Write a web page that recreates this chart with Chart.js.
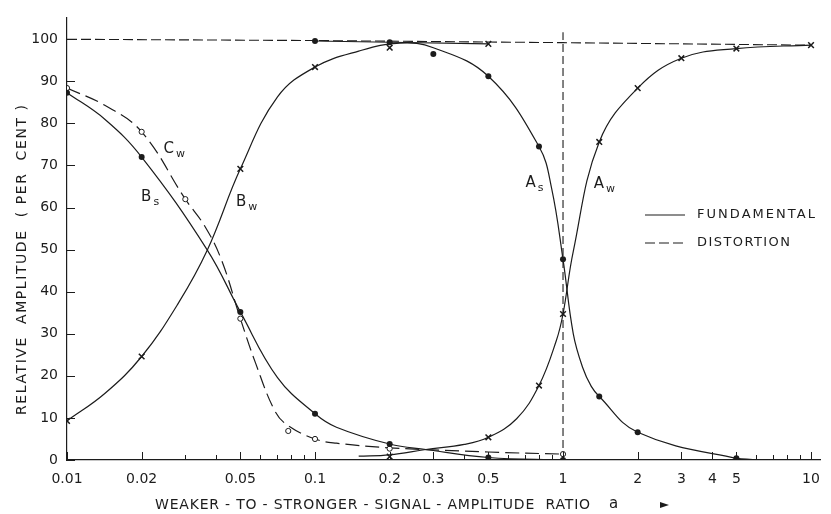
<!DOCTYPE html>
<html lang="en">
<head>
  <meta charset="UTF-8" />
  <title>Relative amplitude vs signal ratio</title>
  <script src="https://cdn.jsdelivr.net/npm/chart.js"></script>
  <style>
    html, body { margin: 0; padding: 0; background: #fff; }
    #chart { display: block; }
  </style>
</head>
<body>
  <canvas id="chart" width="831" height="514"></canvas>

  <script>
    // axis ticks
    const aTicks = [0.01, 0.02, 0.05, 0.1, 0.2, 0.3, 0.5, 1, 2, 3, 4, 5, 10];
    const aTickLabels = ['0.01', '0.02', '0.05', '0.1', '0.2', '0.3', '0.5', '1', '2', '3', '4', '5', '10'];
    const yTicks = [0, 10, 20, 30, 40, 50, 60, 70, 80, 90, 100];

    // curves
    const bsCurveA = [0.01, 0.0142, 0.02, 0.0368, 0.05, 0.0706, 0.1, 0.122, 0.2, 0.28, 0.5, 1];
    const bsCurveY = [87.3, 81, 72, 49.9, 35.2, 19.6, 11, 7.8, 3.8, 2.5, 0.6, 0];

    const cwCurveA = [0.01, 0.0142, 0.02, 0.03, 0.036, 0.042, 0.05, 0.0577, 0.0687, 0.0773, 0.1, 0.122, 0.2, 0.5, 1];
    const cwCurveY = [88.4, 84.3, 78, 62, 55.5, 47.5, 33.6, 22.9, 11.8, 8.3, 5, 4, 2.9, 1.9, 1.4];

    const bwAsCurveA = [0.01, 0.0142, 0.02, 0.0282, 0.0368, 0.05, 0.0706, 0.1, 0.15, 0.22, 0.3, 0.5, 0.8, 0.9, 1, 1.1, 1.2, 1.3, 1.4, 2, 5, 7];
    const bwAsCurveY = [9.3, 15.8, 24.6, 37.4, 49.9, 69.2, 86.3, 93.4, 97.2, 99.1, 98, 91.2, 74.5, 64.5, 47.7, 30, 22, 17.5, 15.1, 6.6, 0.4, 0];

    const awCurveA = [0.15, 0.2, 0.28, 0.4, 0.5, 0.65, 0.8, 0.94, 1, 1.1, 1.4, 2, 3, 5, 10];
    const awCurveY = [0.9, 1.2, 2.5, 3.7, 5.4, 9.8, 17.7, 28.4, 34.7, 49.6, 75.6, 88.4, 95.5, 97.8, 98.6];

    const distTopA = [0.01, 0.1, 1, 10];
    const distTopY = [100, 99.7, 99.2, 98.6];
    const fundTopA = [0.1, 0.2, 0.5];
    const fundTopY = [99.6, 99.3, 98.9];
    const unityA = [1, 1];
    const unityY = [0, 101.7];

    // measured points
    const dotA = [0.01, 0.02, 0.05, 0.1, 0.2, 0.5, 1, 0.1, 0.2, 0.3, 0.5, 0.8, 1, 1.4, 2, 5];
    const dotY = [87.3, 72, 35.2, 11, 3.8, 0.6, 0, 99.6, 99.3, 96.5, 91.2, 74.5, 47.7, 15.1, 6.6, 0.4];

    const crossA = [0.01, 0.02, 0.05, 0.1, 0.2, 0.2, 0.5, 0.8, 1, 1.4, 2, 3, 5, 10, 0.5];
    const crossY = [9.3, 24.6, 69.2, 93.4, 98, 0.8, 5.4, 17.7, 34.7, 75.6, 88.4, 95.5, 97.8, 98.6, 98.9];

    const circA = [0.01, 0.02, 0.03, 0.05, 0.078, 0.1, 0.2, 1];
    const circY = [88.4, 78, 62, 33.6, 6.9, 5, 2.7, 1.4];

    // curve names: [main, subscript, a, value]
    const curveNames = [
      ['C', 'w', 0.0245, 74],
      ['B', 's', 0.0199, 62.5],
      ['B', 'w', 0.048, 61.2],
      ['A', 's', 0.706, 65.7],
      ['A', 'w', 1.33, 65.5]
    ];

    const INK = '#1c1c1c';
    const FONT = '"DejaVu Sans", sans-serif';

    function pts(xs, ys) {
      return xs.map((x, i) => ({ x: x, y: ys[i] }));
    }

    function curve(xs, ys, dash) {
      return {
        data: pts(xs, ys),
        showLine: true,
        pointRadius: 0,
        borderColor: INK,
        borderWidth: 1.2,
        borderDash: dash || [],
        tension: 0.4,
        order: 2
      };
    }

    function straight(xs, ys, dash) {
      return {
        data: pts(xs, ys),
        showLine: true,
        pointRadius: 0,
        borderColor: INK,
        borderWidth: 1.1,
        borderDash: dash || [],
        tension: 0,
        order: 3
      };
    }

    function textSpaced(ctx, text, x, y, width) {
      ctx.letterSpacing = '0px';
      const w0 = ctx.measureText(text).width;
      const sp = (width - w0) / Math.max(1, text.length - 1);
      ctx.letterSpacing = sp.toFixed(2) + 'px';
      ctx.fillText(text, x, y);
      ctx.letterSpacing = '0px';
    }

    const paper = {
      id: 'paper',
      afterDatasetsDraw(chart) {
        const ctx = chart.ctx;
        const x = chart.scales.x;
        const y = chart.scales.y;
        const bottom = chart.chartArea.bottom;
        const left = chart.chartArea.left;
        ctx.save();
        ctx.strokeStyle = INK;
        ctx.fillStyle = INK;
        ctx.lineWidth = 1;

        // inward ticks on the log axis
        [0.01, 0.1, 1].forEach(d => {
          for (let k = 1; k <= 9; k++) {
            const v = d * k;
            const px = Math.round(x.getPixelForValue(v)) + 0.5;
            const len = aTicks.some(t => Math.abs(t - v) < 1e-9) ? 8 : 5;
            ctx.beginPath();
            ctx.moveTo(px, bottom);
            ctx.lineTo(px, bottom - len);
            ctx.stroke();
          }
        });
        const p10 = Math.round(x.getPixelForValue(10)) + 0.5;
        ctx.beginPath();
        ctx.moveTo(p10, bottom);
        ctx.lineTo(p10, bottom - 8);
        ctx.stroke();

        yTicks.forEach(v => {
          const py = Math.round(y.getPixelForValue(v)) + 0.5;
          ctx.beginPath();
          ctx.moveTo(left, py);
          ctx.lineTo(left + 8, py);
          ctx.stroke();
        });

        // curve names with subscripts
        ctx.textBaseline = 'middle';
        ctx.textAlign = 'left';
        curveNames.forEach(n => {
          const px = x.getPixelForValue(n[2]);
          const py = y.getPixelForValue(n[3]);
          ctx.font = '15px ' + FONT;
          ctx.fillText(n[0], px, py);
          const w = ctx.measureText(n[0]).width;
          ctx.font = '11px ' + FONT;
          ctx.fillText(n[1], px + w + 2, py + 5);
        });

        // key
        ctx.lineWidth = 1.2;
        ctx.beginPath();
        ctx.moveTo(645, 215);
        ctx.lineTo(685, 215);
        ctx.stroke();
        ctx.setLineDash([10, 4]);
        ctx.beginPath();
        ctx.moveTo(645, 243);
        ctx.lineTo(686, 243);
        ctx.stroke();
        ctx.setLineDash([]);
        ctx.font = '13px ' + FONT;
        textSpaced(ctx, 'FUNDAMENTAL', 697, 215, 118);
        textSpaced(ctx, 'DISTORTION', 697, 243, 93);

        // axis titles
        ctx.font = '14px ' + FONT;
        ctx.textAlign = 'left';
        textSpaced(ctx, 'WEAKER - TO - STRONGER - SIGNAL - AMPLITUDE  RATIO', 155, 505, 435);
        ctx.font = '15px ' + FONT;
        ctx.fillText('a', 609, 504);
        ctx.beginPath();
        ctx.moveTo(660, 502);
        ctx.lineTo(669, 505);
        ctx.lineTo(660, 508);
        ctx.closePath();
        ctx.fill();

        ctx.save();
        ctx.translate(22, 415);
        ctx.rotate(-Math.PI / 2);
        ctx.font = '14px ' + FONT;
        textSpaced(ctx, 'RELATIVE  AMPLITUDE  ( PER  CENT )', 0, 0, 310);
        ctx.restore();

        ctx.restore();
      }
    };

    const ctx = document.getElementById('chart').getContext('2d');
    const chart = new Chart(ctx, {
      type: 'scatter',
      data: {
        datasets: [
          curve(bsCurveA, bsCurveY),
          curve(cwCurveA, cwCurveY, [14, 6]),
          curve(bwAsCurveA, bwAsCurveY),
          curve(awCurveA, awCurveY),
          straight(distTopA, distTopY, [10, 4]),
          straight(fundTopA, fundTopY),
          straight(unityA, unityY, [8, 4]),
          {
            data: pts(dotA, dotY),
            pointStyle: 'circle',
            pointRadius: 3,
            backgroundColor: INK,
            borderColor: INK,
            borderWidth: 0,
            order: 0
          },
          {
            data: pts(crossA, crossY),
            pointStyle: 'crossRot',
            pointRadius: 4,
            borderColor: INK,
            borderWidth: 1.5,
            order: 0
          },
          {
            data: pts(circA, circY),
            pointStyle: 'circle',
            pointRadius: 2.6,
            backgroundColor: '#fff',
            borderColor: INK,
            borderWidth: 1,
            order: 0
          }
        ]
      },
      options: {
        responsive: false,
        animation: false,
        layout: { padding: { top: 15, right: 1, left: 0, bottom: 0 } },
        plugins: {
          legend: { display: false },
          tooltip: { enabled: false }
        },
        scales: {
          x: {
            type: 'logarithmic',
            min: 0.01,
            max: 10.9,
            grid: { display: false, drawTicks: false },
            border: { display: true, color: INK, width: 1.2 },
            afterBuildTicks: axis => { axis.ticks = aTicks.map(v => ({ value: v })); },
            afterFit: axis => { axis.height = 54; },
            ticks: {
              autoSkip: false,
              maxRotation: 0,
              padding: 11,
              color: INK,
              font: { family: FONT, size: 14 },
              callback: v => aTickLabels[aTicks.indexOf(v)]
            }
          },
          y: {
            min: 0,
            max: 105.2,
            grid: { display: false, drawTicks: false },
            border: { display: true, color: INK, width: 1.2 },
            afterBuildTicks: axis => { axis.ticks = yTicks.map(v => ({ value: v })); },
            afterFit: axis => { axis.width = 67; },
            ticks: {
              padding: 9,
              color: INK,
              font: { family: FONT, size: 14 }
            }
          }
        }
      },
      plugins: [paper]
    });
  </script>
</body>
</html>
